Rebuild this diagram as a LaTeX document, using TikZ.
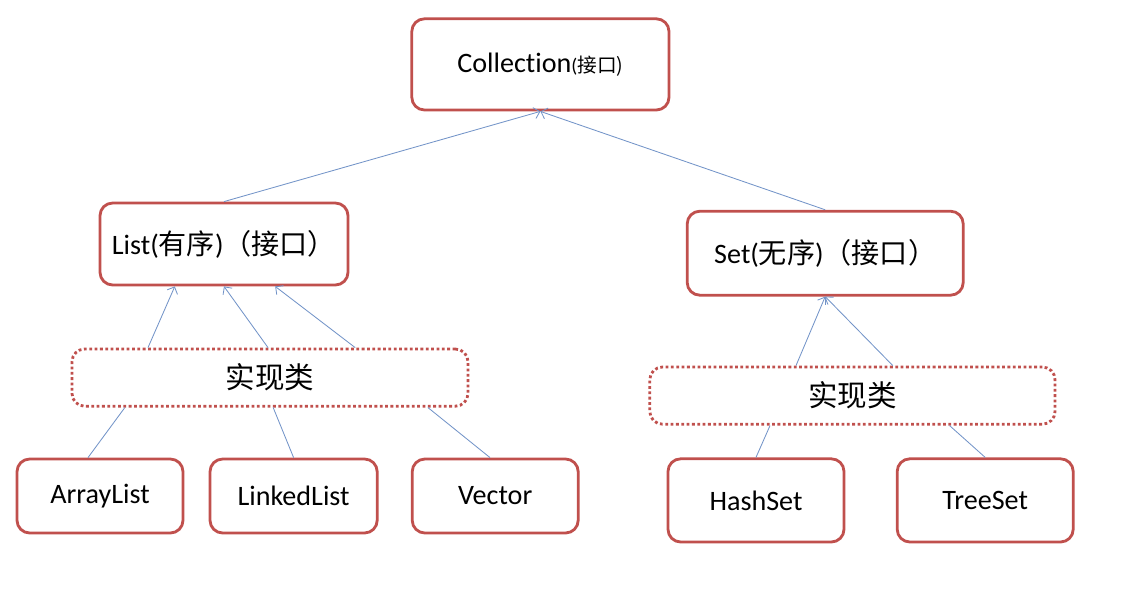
\documentclass[tikz,border=0pt]{standalone}
\usepackage{fontspec}
\setmainfont{Carlito}[Ligatures = NoCommon]
\newfontfamily\cjk{Noto Sans CJK SC}
\usetikzlibrary{arrows.meta,positioning}
\definecolor{boxred}{RGB}{192,80,77}
\definecolor{linkblue}{RGB}{115,148,200}

\begin{document}
\begin{tikzpicture}[-{Straight Barb[length=4pt,width=8pt]}, node distance = 4.8cm, on grid, box/.style = {draw = boxred, line width = 2pt, rounded corners = 9pt, font = \fontsize{20}{24}\selectfont}, impl/.style = {draw = boxred, line width = 2pt, dash pattern = on 2pt off 1.8pt, rounded corners = 9pt, minimum height = 1.43cm, font = \fontsize{21}{24}\selectfont}, every edge/.style = {draw = linkblue, line width = 0.6pt}]
\useasboundingbox (0,0) rectangle (28.55,-14.95);

\node[box, minimum width = 6.43cm, minimum height = 2.28cm] (coll) at (13.51,-1.61) {Collection{\fontsize{14}{16}\selectfont(\cjk 接口)}};
\node[box, minimum width = 6.2cm, minimum height = 2.05cm, below left = 4.49cm and 7.91cm of coll] (list) {List({\cjk 有序}){\cjk （接口）}};
\node[box, minimum width = 6.9cm, minimum height = 2.1cm, below right = 4.72cm and 7.12cm of coll] (set) {Set({\cjk 无序}){\cjk （接口）}};

\node[impl, minimum width = 9.9cm, below right = 3.34cm and 1.15cm of list] (implL) {\cjk 实现类};
\node[impl, minimum width = 10.13cm, below right = 3.56cm and 0.68cm of set] (implR) {\cjk 实现类};

\node[box, minimum width = 4.15cm, minimum height = 1.85cm, below left = 2.96cm and 4.25cm of implL] (arr) {ArrayList};
\node[box, minimum width = 4.18cm, minimum height = 1.85cm, right = 4.84cm of arr] (linked) {LinkedList};
\node[box, minimum width = 4.15cm, minimum height = 1.85cm, right = 5.04cm of linked] (vec) {Vector};

\node[box, minimum width = 4.4cm, minimum height = 2.08cm, below left = 2.62cm and 2.41cm of implR] (hash) {HashSet};
\node[box, minimum width = 4.4cm, minimum height = 2.08cm, right = 5.73cm of hash] (tree) {TreeSet};

% interfaces
\path (list.north) edge (coll.south);
\path (set.north) edge (coll.south);

% list side
\path ([xshift = -3.05cm]implL.north) edge ([xshift = -1.23cm]list.south);
\path ([xshift = -0.05cm]implL.north) edge (list.south);
\path ([xshift = 2.13cm]implL.north) edge ([xshift = 1.28cm]list.south);
\path[-] ([xshift = -0.3cm]arr.north) edge ([xshift = -3.63cm]implL.south);
\path[-] (linked.north) edge ([xshift = 0.08cm]implL.south);
\path[-] ([xshift = -0.13cm]vec.north) edge ([xshift = 3.95cm]implL.south);

% set side
\path ([xshift = -1.41cm]implR.north) edge (set.south);
\path ([xshift = 1.01cm]implR.north) edge (set.south);
\path[-] (hash.north) edge ([xshift = -2.06cm]implR.south);
\path[-] (tree.north) edge ([xshift = 2.43cm]implR.south);
\end{tikzpicture}
\end{document}
